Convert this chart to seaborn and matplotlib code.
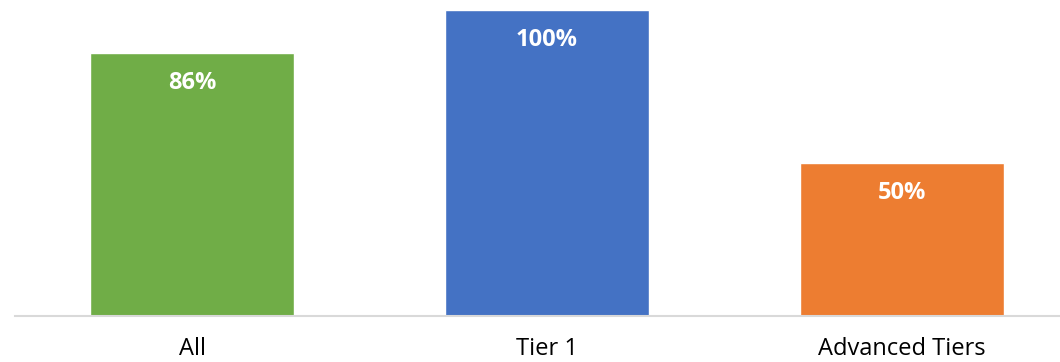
import matplotlib
matplotlib.use("Agg")
import matplotlib.pyplot as plt
import seaborn as sns
import pandas as pd

categories = ["All", "Tier 1", "Advanced Tiers"]
values = [0.86, 1.00, 0.50]
labels = ["86%", "100%", "50%"]
colors = ["#70AD47", "#4472C4", "#ED7D31"]

sns.set_theme(style="white")
plt.rcParams['font.family'] = ['Open Sans', 'DejaVu Sans']

df = pd.DataFrame({"cat": categories, "val": values})

fig = plt.figure(figsize=(10.6, 3.62), dpi=100)
ax = fig.add_axes([14.5/1060, (362-316)/362, (1060-14.5)/1060, 316/362])
sns.barplot(data=df, x="cat", y="val", hue="cat", palette=colors, width=0.575,
            legend=False, ax=ax, saturation=1)
ax.set_xlim(-0.5, 2.445)
ax.set_ylim(0, 316/306)
for i, (v, lab) in enumerate(zip(values, labels)):
    ax.annotate(lab, xy=(i, v), xytext=(0, -30), textcoords="offset pixels",
                ha="center", va="center", color="white", fontsize=17, fontweight="bold")
ax.set_xlabel("")
ax.set_ylabel("")
ax.set_yticks([])
for s in ["top", "right", "left"]:
    ax.spines[s].set_visible(False)
ax.spines["bottom"].set_color("#D9D9D9")
ax.spines["bottom"].set_linewidth(1.5)
ax.tick_params(axis="x", length=0, pad=15, labelsize=17, labelcolor="#000000")
fig.savefig("out.png", dpi=100)
